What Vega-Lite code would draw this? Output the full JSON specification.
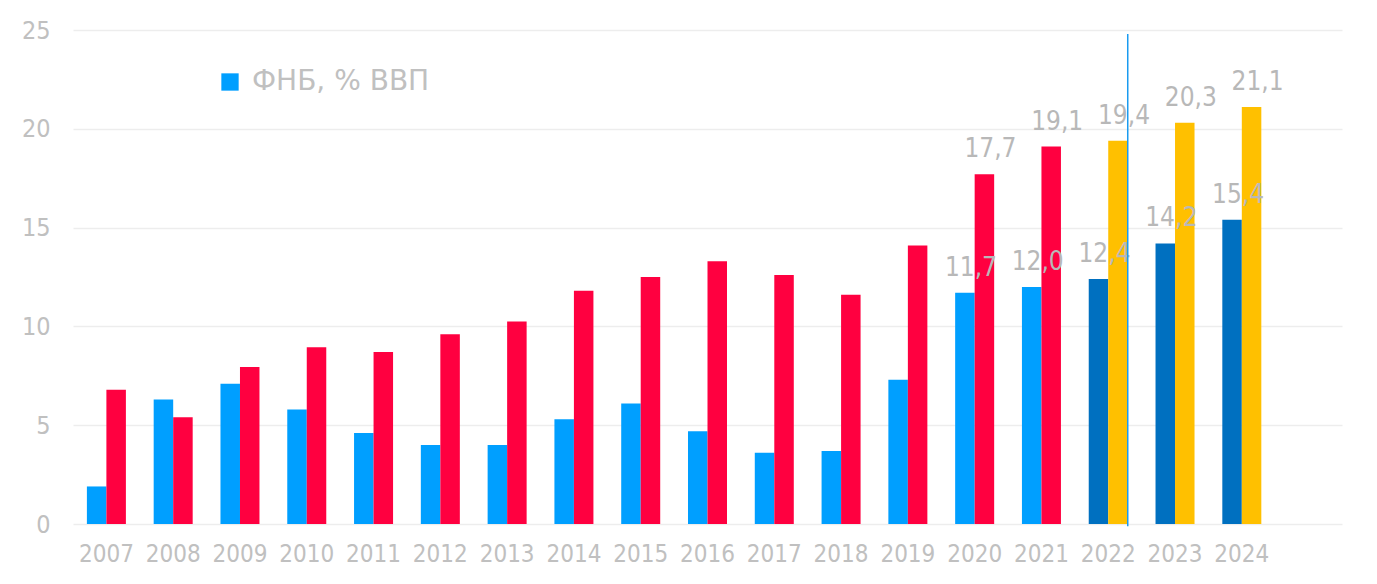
{
  "$schema": "https://vega.github.io/schema/vega-lite/v6.json",
  "autosize": {"type": "none"},
  "padding": {"left": 73, "top": 30, "right": 35, "bottom": 60},
  "width": 1269,
  "height": 494,
  "background": "white",
  "config": {
    "view": {"stroke": null},
    "font": "DejaVu Sans Condensed, DejaVu Sans",
    "locale": {"number": {"decimal": ",", "thousands": " ", "grouping": [3], "currency": ["", ""]}}
  },
  "data": {
    "values": [
      {"year": "2007", "series": "ФНБ", "kind": "ФНБ, % ВВП", "value": 1.9},
      {"year": "2007", "series": "Госдолг", "kind": "Госдолг, % ВВП", "value": 6.8},
      {"year": "2008", "series": "ФНБ", "kind": "ФНБ, % ВВП", "value": 6.3},
      {"year": "2008", "series": "Госдолг", "kind": "Госдолг, % ВВП", "value": 5.4},
      {"year": "2009", "series": "ФНБ", "kind": "ФНБ, % ВВП", "value": 7.1},
      {"year": "2009", "series": "Госдолг", "kind": "Госдолг, % ВВП", "value": 7.95},
      {"year": "2010", "series": "ФНБ", "kind": "ФНБ, % ВВП", "value": 5.8},
      {"year": "2010", "series": "Госдолг", "kind": "Госдолг, % ВВП", "value": 8.95},
      {"year": "2011", "series": "ФНБ", "kind": "ФНБ, % ВВП", "value": 4.6},
      {"year": "2011", "series": "Госдолг", "kind": "Госдолг, % ВВП", "value": 8.7},
      {"year": "2012", "series": "ФНБ", "kind": "ФНБ, % ВВП", "value": 4.0},
      {"year": "2012", "series": "Госдолг", "kind": "Госдолг, % ВВП", "value": 9.6},
      {"year": "2013", "series": "ФНБ", "kind": "ФНБ, % ВВП", "value": 4.0},
      {"year": "2013", "series": "Госдолг", "kind": "Госдолг, % ВВП", "value": 10.25},
      {"year": "2014", "series": "ФНБ", "kind": "ФНБ, % ВВП", "value": 5.3},
      {"year": "2014", "series": "Госдолг", "kind": "Госдолг, % ВВП", "value": 11.8},
      {"year": "2015", "series": "ФНБ", "kind": "ФНБ, % ВВП", "value": 6.1},
      {"year": "2015", "series": "Госдолг", "kind": "Госдолг, % ВВП", "value": 12.5},
      {"year": "2016", "series": "ФНБ", "kind": "ФНБ, % ВВП", "value": 4.7},
      {"year": "2016", "series": "Госдолг", "kind": "Госдолг, % ВВП", "value": 13.3},
      {"year": "2017", "series": "ФНБ", "kind": "ФНБ, % ВВП", "value": 3.6},
      {"year": "2017", "series": "Госдолг", "kind": "Госдолг, % ВВП", "value": 12.6},
      {"year": "2018", "series": "ФНБ", "kind": "ФНБ, % ВВП", "value": 3.7},
      {"year": "2018", "series": "Госдолг", "kind": "Госдолг, % ВВП", "value": 11.6},
      {"year": "2019", "series": "ФНБ", "kind": "ФНБ, % ВВП", "value": 7.3},
      {"year": "2019", "series": "Госдолг", "kind": "Госдолг, % ВВП", "value": 14.1},
      {"year": "2020", "series": "ФНБ", "kind": "ФНБ, % ВВП", "value": 11.7},
      {"year": "2020", "series": "Госдолг", "kind": "Госдолг, % ВВП", "value": 17.7},
      {"year": "2021", "series": "ФНБ", "kind": "ФНБ, % ВВП", "value": 12.0},
      {"year": "2021", "series": "Госдолг", "kind": "Госдолг, % ВВП", "value": 19.1},
      {"year": "2022", "series": "ФНБ", "kind": "ФНБ прогноз", "value": 12.4},
      {"year": "2022", "series": "Госдолг", "kind": "Госдолг прогноз", "value": 19.4},
      {"year": "2023", "series": "ФНБ", "kind": "ФНБ прогноз", "value": 14.2},
      {"year": "2023", "series": "Госдолг", "kind": "Госдолг прогноз", "value": 20.3},
      {"year": "2024", "series": "ФНБ", "kind": "ФНБ прогноз", "value": 15.4},
      {"year": "2024", "series": "Госдолг", "kind": "Госдолг прогноз", "value": 21.1}
    ]
  },
  "encoding": {
    "x": {
      "field": "year",
      "type": "nominal",
      "scale": {
        "domain": ["2007","2008","2009","2010","2011","2012","2013","2014","2015","2016","2017","2018","2019","2020","2021","2022","2023","2024","2025"],
        "paddingInner": 0.416,
        "paddingOuter": 0.208
      },
      "axis": {
        "title": null,
        "labelExpr": "datum.value == '2025' ? '' : datum.value",
        "labelAngle": 0,
        "labelFontSize": 24,
        "labelColor": "#c0c0c0",
        "labelPadding": 18,
        "domain": false,
        "ticks": false,
        "grid": false
      }
    },
    "y": {
      "field": "value",
      "type": "quantitative",
      "scale": {"domain": [0, 25], "nice": false},
      "axis": {
        "title": null,
        "values": [0, 5, 10, 15, 20, 25],
        "labelFontSize": 25,
        "labelColor": "#c0c0c0",
        "labelPadding": 23,
        "domain": false,
        "ticks": false,
        "grid": true,
        "gridColor": "#ededed",
        "gridWidth": 1.6
      }
    }
  },
  "layer": [
    {
      "mark": {"type": "bar"},
      "encoding": {
        "xOffset": {"field": "series", "type": "nominal", "scale": {"domain": ["ФНБ", "Госдолг"], "paddingInner": 0, "paddingOuter": 0}},
        "color": {
          "field": "kind",
          "type": "nominal",
          "scale": {
            "domain": ["ФНБ, % ВВП", "Госдолг, % ВВП", "ФНБ прогноз", "Госдолг прогноз"],
            "range": ["#009fff", "#ff0040", "#0070c0", "#ffc000"]
          },
          "legend": {
            "values": ["ФНБ, % ВВП"],
            "title": null,
            "orient": "none",
            "legendX": 143,
            "legendY": 38,
            "symbolType": "square",
            "symbolSize": 300,
            "symbolStrokeWidth": 0,
            "labelFontSize": 28,
            "labelLimit": 0,
            "labelColor": "#c0c0c0",
            "labelOffset": 8,
            "labelFont": "DejaVu Sans"
          }
        }
      }
    },
    {
      "transform": [{"filter": "toNumber(datum.year) >= 2020"}],
      "mark": {"type": "text", "baseline": "alphabetic", "align": "center", "dy": -17, "dx": 6, "fontSize": 26, "color": "#b8b8b8"},
      "encoding": {
        "xOffset": {"field": "series", "type": "nominal", "scale": {"domain": ["ФНБ", "Госдолг"]}},
        "text": {"field": "value", "type": "quantitative", "format": ".1f"}
      }
    },
    {
      "data": {"values": [{"year": "2022", "top": 24.8, "bottom": -0.12}]},
      "mark": {"type": "rule", "color": "#1a9bf0", "strokeWidth": 1.5},
      "encoding": {
        "x": {"field": "year", "type": "nominal", "bandPosition": 1},
        "y": {"field": "top", "type": "quantitative"},
        "y2": {"field": "bottom"}
      }
    }
  ]
}
